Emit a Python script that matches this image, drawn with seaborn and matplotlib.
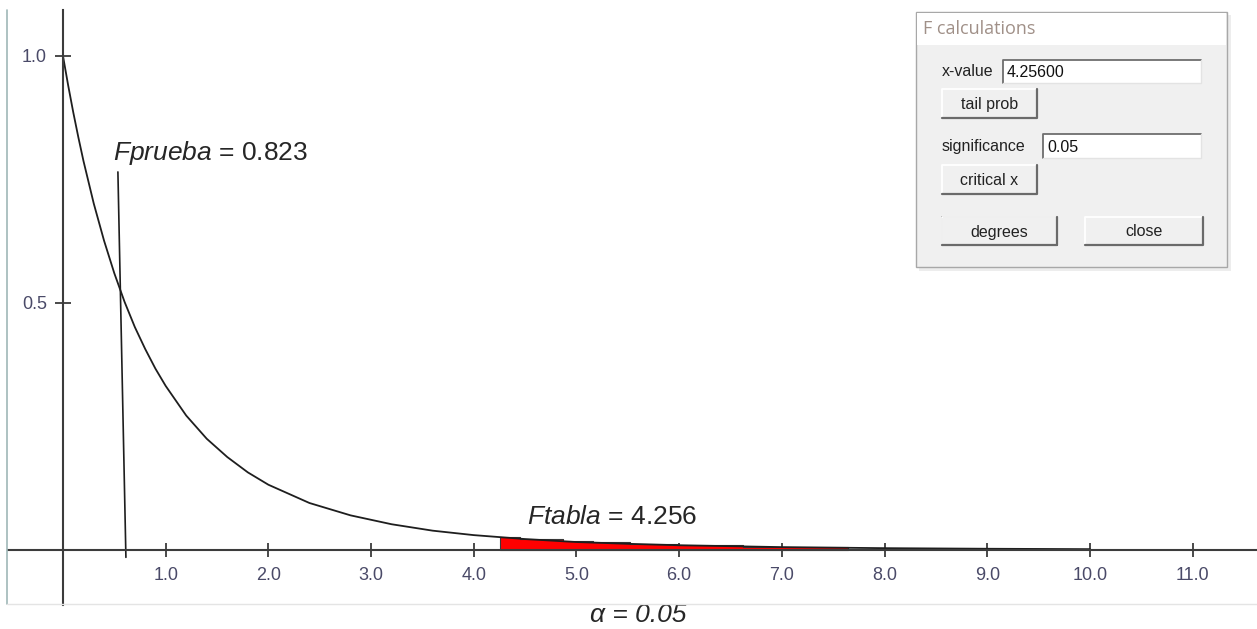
import matplotlib
matplotlib.use("Agg")
import matplotlib.pyplot as plt
from matplotlib.patches import Rectangle
import seaborn as sns
import pandas as pd

# F(2, 9) density
curve_x = [0, 0.05, 0.1, 0.15, 0.2, 0.3, 0.4, 0.5, 0.6, 0.7, 0.8, 0.9, 1.0, 1.2, 1.4,
           1.6, 1.8, 2.0, 2.4, 2.8, 3.2, 3.6, 4.0, 4.5, 5.0, 5.5, 6.0, 7.0, 8.0, 9.0, 10.0]
curve_y = [1.000, 0.941, 0.886, 0.835, 0.787, 0.701, 0.626, 0.560, 0.502, 0.451,
           0.407, 0.367, 0.332, 0.272, 0.225, 0.188, 0.157, 0.132, 0.095, 0.070,
           0.052, 0.039, 0.030, 0.022, 0.016, 0.0124, 0.0095, 0.0057, 0.0036,
           0.0024, 0.0016]

# stepped red rejection region
tail_x = [4.256, 4.45, 4.87, 5.16, 5.52, 5.98, 6.62, 7.64]
tail_y = [0.026, 0.0227, 0.0178, 0.0151, 0.0124, 0.0096, 0.0069, 0.0043]

# Fprueba marker line
fprueba_x = [0.535, 0.613]
fprueba_y = [0.765, -0.015]

xticks = [1, 2, 3, 4, 5, 6, 7, 8, 9, 10, 11]
xtick_labels = ["1.0", "2.0", "3.0", "4.0", "5.0", "6.0", "7.0", "8.0", "9.0", "10.0", "11.0"]
yticks = [0.5, 1.0]
ytick_labels = ["0.5", "1.0"]

sns.set_theme(style="white")
plt.rcParams["font.family"] = ["Liberation Sans", "DejaVu Sans"]
plt.rcParams["mathtext.fontset"] = "custom"
plt.rcParams["mathtext.rm"] = "Liberation Sans"
plt.rcParams["mathtext.it"] = "Liberation Sans:italic"

fig = plt.figure(figsize=(12.57, 6.29), dpi=100)
ax = fig.add_axes([0, 0, 1, 1])
ax.set_xlim(-0.613, 11.626)
ax.set_ylim(-0.160, 1.113)

df = pd.DataFrame({"x": curve_x, "y": curve_y})
ax.fill_between(tail_x, tail_y, step="post", facecolor="#ff0000",
                edgecolor="#3a3a3a", lw=0.8, zorder=1)
sns.lineplot(data=df, x="x", y="y", ax=ax, color="#1e1e1e", lw=1.3, zorder=2)
ax.plot(fprueba_x, fprueba_y, color="#1e1e1e", lw=1.2)

# axes crossing at the origin
for side in ["top", "right"]:
    ax.spines[side].set_visible(False)
ax.spines["left"].set_position(("data", 0))
ax.spines["bottom"].set_position(("data", 0))
ax.spines["left"].set_bounds(-0.111, 1.093)
ax.spines["bottom"].set_bounds(-0.536, 11.626)
for side in ["left", "bottom"]:
    ax.spines[side].set_color("#3c3c3c")
    ax.spines[side].set_linewidth(1.5)
    ax.spines[side].set_zorder(3)

ax.set_xticks(xticks, xtick_labels)
ax.set_yticks(yticks, ytick_labels)
ax.tick_params(axis="x", bottom=True, direction="inout", length=10, width=1.3, pad=7,
               labelsize=13, labelcolor="#4a4a68", color="#3c3c3c")
ax.tick_params(axis="y", left=True, direction="inout", length=12, width=1.3, pad=5.5,
               labelsize=13, labelcolor="#4a4a68", color="#3c3c3c")
ax.set_xlabel("")
ax.set_ylabel("")
ax.grid(False)

ax.text(0.487, 0.789, r"$\mathit{Fprueba}$ = 0.823", fontsize=19, va="baseline", ha="left")
ax.text(4.518, 0.0526, r"$\mathit{Ftabla}$ = 4.256", fontsize=19, va="baseline", ha="left")
ax.text(5.13, -0.146, "α = 0.05", fontsize=19, style="italic", va="baseline", ha="left")

# overlay in pixel coordinates: screenshot borders and the dialog
ov = fig.add_axes([0, 0, 1, 1], zorder=5)
ov.set_xlim(0, 1257)
ov.set_ylim(629, 0)
ov.axis("off")
ov.patch.set_alpha(0)

ov.plot([7, 7], [10, 604], color="#9fb7b7", lw=1.2)
ov.plot([7, 1257], [604, 604], color="#e4e4e4", lw=1)


def sunken(x, y, w, h, text):
    ov.add_patch(Rectangle((x, y), w, h, facecolor="white", edgecolor="none"))
    ov.plot([x, x, x + w], [y + h, y, y], color="#6e6e6e", lw=1.3)
    ov.plot([x, x + w, x + w], [y + h, y + h, y], color="#e3e3e3", lw=1)
    ov.text(x + 4, y + h / 2 + 1, text, fontsize=11.5, va="center", ha="left", color="#111")


def button(x, y, w, h, text, default=False):
    ov.add_patch(Rectangle((x, y), w, h, facecolor="#f0f0f0", edgecolor="none"))
    ov.plot([x, x, x + w], [y + h, y, y], color="white", lw=1.3)
    ov.plot([x, x + w, x + w], [y + h, y + h, y], color="#6a6a6a", lw=1.6)
    if default:
        ov.add_patch(Rectangle((x, y), w, h, facecolor="none", edgecolor="#505050", lw=1.3))
    ov.text(x + w / 2, y + h / 2 + 1, text, fontsize=11.5, va="center", ha="center", color="#222")


ov.add_patch(Rectangle((919, 15), 312, 256, facecolor="#e2e2e2", edgecolor="none", alpha=0.6))
ov.add_patch(Rectangle((916, 12), 311, 255, facecolor="#f0f0f0", edgecolor="#a8a8a8", lw=1))
ov.add_patch(Rectangle((917, 13), 309, 32, facecolor="white", edgecolor="none"))
ov.text(923, 29, "F calculations", fontsize=13, va="center", ha="left",
        color="#a09088", family=["Open Sans", "DejaVu Sans"])

ov.text(942, 71, "x-value", fontsize=11.5, va="center", ha="left", color="#222")
sunken(1003, 60, 198, 23, "4.25600")
button(942, 89, 95, 29, "tail prob")
ov.text(942, 146, "significance", fontsize=11.5, va="center", ha="left", color="#222")
sunken(1043, 134, 158, 24, "0.05")
button(942, 165, 95, 29, "critical x")
button(942, 217, 115, 28, "degrees", default=True)
button(1085, 217, 118, 28, "close")

fig.savefig("out.png", dpi=100)
